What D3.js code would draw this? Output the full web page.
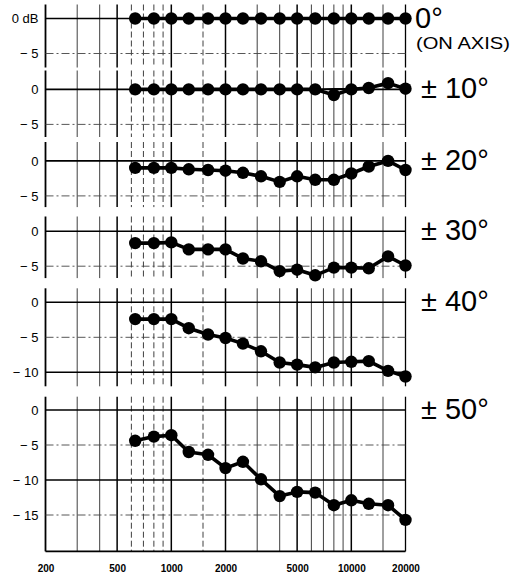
<!DOCTYPE html>
<html>
<head>
<meta charset="utf-8">
<script src="https://cdn.jsdelivr.net/npm/d3@7"></script>
<style>
  body { margin: 0; background: #fff; }
  text { font-family: "Liberation Sans", Arial, Helvetica, sans-serif; }
</style>
</head>
<body>
<script>
// third-octave measuring frequencies (Hz)
var freqs = [630, 800, 1000, 1250, 1600, 2000, 2500, 3150, 4000, 5000, 6300, 8000, 10000, 12500, 16000, 20000];

// response relative to on-axis, dB, one array per angle
var resp0  = [0, 0, 0, 0, 0, 0, 0, 0, 0, 0, 0, 0, 0, 0, 0, 0];
var resp10 = [0, 0, 0, 0, 0, 0, 0, 0, 0, 0, 0, -0.8, 0, 0.2, 0.9, 0.1];
var resp20 = [-1.0, -1.0, -1.0, -1.2, -1.3, -1.4, -1.7, -2.2, -3.0, -2.2, -2.7, -2.7, -1.8, -0.8, 0.0, -1.3];
var resp30 = [-1.7, -1.7, -1.6, -2.6, -2.6, -2.6, -3.9, -4.3, -5.7, -5.5, -6.3, -5.2, -5.2, -5.3, -3.6, -4.9];
var resp40 = [-2.4, -2.4, -2.4, -3.7, -4.6, -5.1, -5.9, -7.0, -8.6, -8.9, -9.3, -8.6, -8.5, -8.4, -9.8, -10.6];
var resp50 = [-4.4, -3.8, -3.6, -6.0, -6.4, -8.3, -7.4, -9.9, -12.3, -11.7, -11.8, -13.6, -12.9, -13.4, -13.6, -15.7];

// the other side at 10 deg, drawn thin where it departs
var freqs10b = [6300, 8000, 10000, 12500, 16000, 20000];
var resp10b  = [0, 0.1, 0.1, 0.3, 0.6, 0.4];

var angleLabels = ["0°", "± 10°", "± 20°", "± 30°", "± 40°", "± 50°"];
var yDomains = [[2, -7], [2.7, -6.8], [2.7, -6.6], [2.1, -6.7], [2, -12], [1.9, -20.2]];
var yTicks = [[0, -5], [0, -5], [0, -5], [0, -5], [0, -5, -10], [0, -5, -10, -15]];
var xTickVals = [200, 500, 1000, 2000, 5000, 10000, 20000];
var majorGrid = [500, 1000, 2000, 5000, 10000];
var minorGrid = [300, 400, 600, 700, 800, 900, 1500, 3000, 4000, 6000, 7000, 8000, 9000, 15000];

var series = [resp0, resp10, resp20, resp30, resp40, resp50];

// layout
var W = 513, H = 577;
var panelTop = [4.5, 70.5, 142, 216.5, 288.3, 396.7];
var pxPerDb = 7;

var svg = d3.select("body").append("svg")
    .attr("width", W)
    .attr("height", H);

var x = d3.scaleLog()
    .domain([200, 20000])
    .range([45.5, 405.5]);

var line = d3.line()
    .x(function(d) { return x(d[0]); })
    .y(function(d) { return d[1]; });

series.forEach(function(vals, i) {
  var dom = yDomains[i];
  var top = panelTop[i];
  var bottom = top + (dom[0] - dom[1]) * pxPerDb;
  var y = d3.scaleLinear().domain(dom).range([top, bottom]);

  var g = svg.append("g");

  // vertical grid
  g.selectAll(".minor").data(minorGrid).enter().append("line")
    .attr("x1", function(d) { return x(d); })
    .attr("x2", function(d) { return x(d); })
    .attr("y1", top).attr("y2", bottom)
    .attr("stroke", "#2a2a2a")
    .attr("stroke-width", 0.9)
    .attr("stroke-dasharray", function(d) { return (d > 500 && d < 1000) || d == 1500 ? "6,3" : null; });

  g.selectAll(".major").data(majorGrid).enter().append("line")
    .attr("x1", function(d) { return x(d); })
    .attr("x2", function(d) { return x(d); })
    .attr("y1", top).attr("y2", bottom)
    .attr("stroke", "#000")
    .attr("stroke-width", 1.5);

  // left and right edges
  g.selectAll(".edge").data([200, 20000]).enter().append("line")
    .attr("x1", function(d) { return x(d); })
    .attr("x2", function(d) { return x(d); })
    .attr("y1", top).attr("y2", bottom)
    .attr("stroke", "#000")
    .attr("stroke-width", function(d) { return d == 200 ? 1.8 : 1.3; });

  // horizontal grid
  g.selectAll(".hgrid").data(yTicks[i]).enter().append("line")
    .attr("x1", x(200)).attr("x2", x(20000))
    .attr("y1", function(d) { return y(d); })
    .attr("y2", function(d) { return y(d); })
    .attr("stroke", function(d) { return d % 10 == 0 ? "#000" : "#444"; })
    .attr("stroke-width", function(d) { return d % 10 == 0 ? 1.6 : 0.9; })
    .attr("stroke-dasharray", function(d) { return d % 10 == 0 ? null : "8,3,2,3"; });

  if (i == series.length - 1) {
    g.append("line")
      .attr("x1", x(200)).attr("x2", x(20000))
      .attr("y1", bottom).attr("y2", bottom)
      .attr("stroke", "#000").attr("stroke-width", 1.6);
  }

  // y axis labels
  var yAxis = d3.axisLeft(y)
    .tickValues(yTicks[i])
    .tickSize(0)
    .tickPadding(7)
    .tickFormat(function(d) {
      if (d == 0) return i == 0 ? "0 dB" : "0";
      return "\u2212 " + Math.abs(d);
    });
  var ya = g.append("g")
    .attr("transform", "translate(" + x(200) + ",0)")
    .call(yAxis);
  ya.select(".domain").remove();
  ya.selectAll("text")
    .attr("fill", "#000")
    .style("font-size", "13px")
    .style("font-family", "'Liberation Sans', Arial, sans-serif");

  // thin second trace at 10 deg
  if (i == 1) {
    g.append("path")
      .datum(freqs10b.map(function(f, k) { return [f, y(resp10b[k])]; }))
      .attr("d", line)
      .attr("fill", "none")
      .attr("stroke", "#000")
      .attr("stroke-width", 1.2);
  }

  // response curve
  var pts = freqs.map(function(f, k) { return [f, y(vals[k])]; });
  g.append("path")
    .datum(pts)
    .attr("d", line)
    .attr("fill", "none")
    .attr("stroke", "#000")
    .attr("stroke-width", 3.6)
    .attr("stroke-linejoin", "round");

  g.selectAll(".dot").data(pts).enter().append("circle")
    .attr("cx", function(d) { return x(d[0]); })
    .attr("cy", function(d) { return d[1]; })
    .attr("r", 6.2)
    .attr("fill", "#000");

  // angle label
  g.append("text")
    .attr("x", i == 0 ? 415 : 421)
    .attr("y", y(0) + 9)
    .style("font-size", "29px")
    .attr("fill", "#000")
    .text(angleLabels[i]);

  if (i == 0) {
    g.append("text")
      .attr("x", 416)
      .attr("y", 49)
      .style("font-size", "17px")
      .attr("textLength", 94)
      .attr("lengthAdjust", "spacingAndGlyphs")
      .attr("fill", "#000")
      .text("(ON AXIS)");
  }

  // frequency labels under the last panel
  if (i == series.length - 1) {
    var xa = g.append("g")
      .attr("transform", "translate(0," + bottom + ")")
      .call(d3.axisBottom(x)
        .tickValues(xTickVals)
        .tickSize(0)
        .tickPadding(14)
        .tickFormat(d3.format("d")));
    xa.select(".domain").remove();
    xa.selectAll("text")
      .attr("fill", "#000")
      .style("font-size", "10px")
      .style("font-weight", "bold")
      .style("font-family", "'Liberation Sans', Arial, sans-serif");
  }
});
</script>
</body>
</html>
